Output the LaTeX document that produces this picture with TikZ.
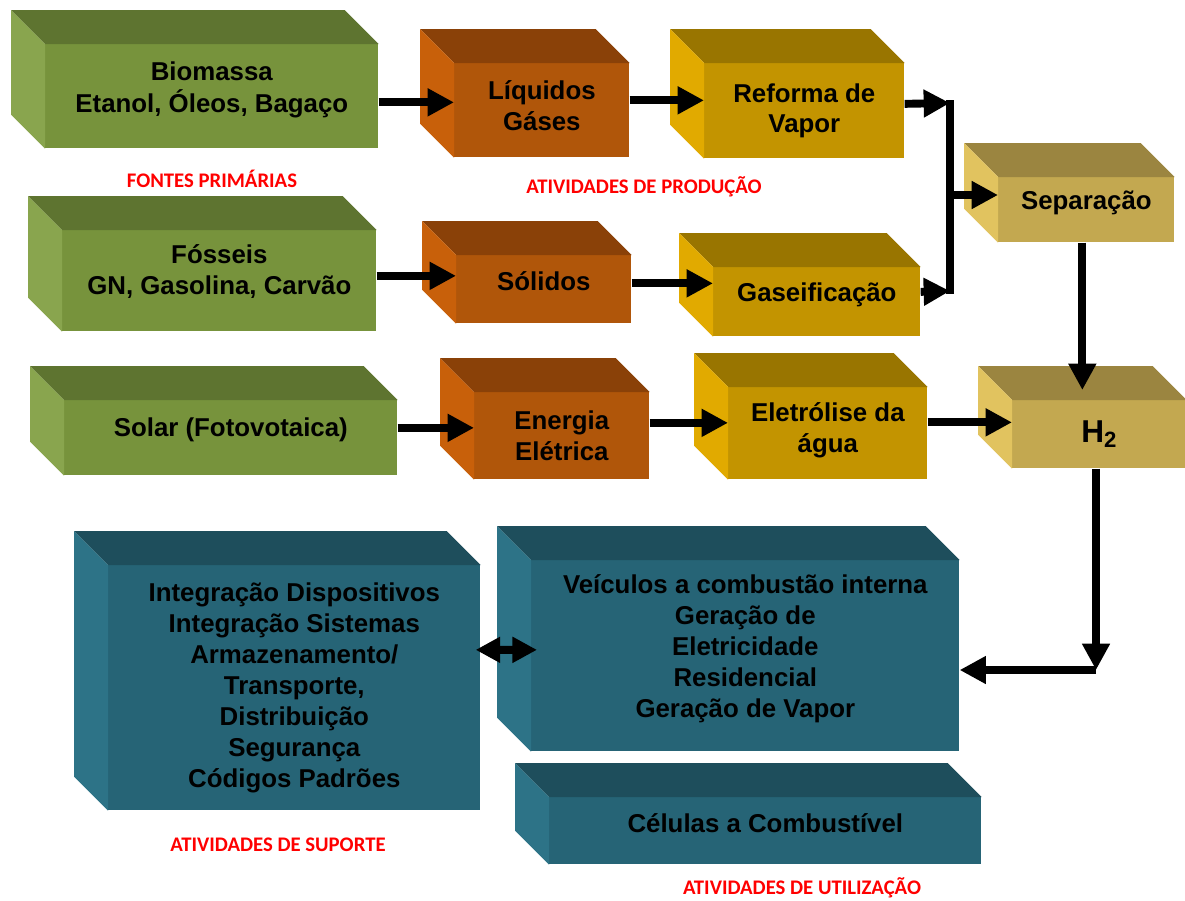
\documentclass[tikz,border=0pt]{standalone}
\usepackage{fontspec}
\setmainfont{Liberation Sans}
\newfontfamily\lblfont{Carlito}
\usetikzlibrary{arrows.meta}

%% face colours: F front, T top, S side
\definecolor{grnF}{HTML}{77933C}
\definecolor{grnT}{HTML}{5E7430}
\definecolor{grnS}{HTML}{89A54E}
\definecolor{orgF}{HTML}{B0560A}
\definecolor{orgT}{HTML}{8A4108}
\definecolor{orgS}{HTML}{C8600A}
\definecolor{gldF}{HTML}{C39400}
\definecolor{gldT}{HTML}{997500}
\definecolor{gldS}{HTML}{E1AA00}
\definecolor{tanF}{HTML}{C3A850}
\definecolor{tanT}{HTML}{9B8540}
\definecolor{tanS}{HTML}{E1C35F}
\definecolor{tealF}{HTML}{266476}
\definecolor{tealT}{HTML}{1E4E5C}
\definecolor{tealS}{HTML}{2D7387}

%% text lifted a little above the middle of the front face
\newcommand{\lift}[2]{\raisebox{#1}[0pt][0pt]{\begin{tabular}{@{}c@{}}#2\end{tabular}}}

\begin{document}
\begin{tikzpicture}[x=0.02cm,y=-0.02cm,
    box/.style={rectangle,anchor=north west,inner sep=0pt,align=center,
        font=\bfseries\fontsize{14.7}{17.6}\selectfont},
    arr/.style={line width=4.5pt,-{Triangle[length=15pt,width=15pt]}},
    darr/.style={line width=4.5pt,{Triangle[length=14pt,width=14pt]}-{Triangle[length=14pt,width=14pt]}},
    lbl/.style={text=red,font=\lblfont\bfseries\fontsize{11.8}{14}\selectfont}]
    \useasboundingbox (0,0) rectangle (1185,900);

    %% primary sources
    \node[box,fill=grnF,minimum width=6.66cm,minimum height=2.08cm] (bio) at (45,44) {\lift{0pt}{Biomassa\\Etanol, Óleos, Bagaço}};
    \node[box,fill=grnF,minimum width=6.28cm,minimum height=2.02cm] (fos) at (62,230) {\lift{0.9pt}{Fósseis\\GN, Gasolina, Carvão}};
    \node[box,fill=grnF,minimum width=6.66cm,minimum height=1.50cm] (sun) at (64,400) {\lift{0.9pt}{Solar (Fotovotaica)}};

    %% production
    \node[box,fill=orgF,minimum width=3.50cm,minimum height=1.88cm] (liq) at (454,63) {\lift{-2.6pt}{Líquidos\\Gáses}};
    \node[box,fill=orgF,minimum width=3.50cm,minimum height=1.36cm] (sld) at (456,255) {\lift{-0.8pt}{Sólidos}};
    \node[box,fill=orgF,minimum width=3.50cm,minimum height=1.74cm] (ene) at (474,392) {Energia\\Elétrica};
    \node[box,fill=gldF,minimum width=4.00cm,minimum height=1.90cm] (ref) at (704,63) {Reforma de\\Vapor};
    \node[box,fill=gldF,minimum width=4.14cm,minimum height=1.38cm] (gas) at (713,267) {\lift{0.3pt}{Gaseificação}};
    \node[box,fill=gldF,minimum width=3.98cm,minimum height=1.84cm] (ele) at (728,387) {\lift{-2pt}{Eletrólise da\\água}};
    \node[box,fill=tanF,minimum width=3.52cm,minimum height=1.30cm] (sep) at (998,177) {\lift{0pt}{Separação}};
    \node[box,fill=tanF,minimum width=3.48cm,minimum height=1.36cm,font=\bfseries\fontsize{18}{21}\selectfont] (htwo) at (1012,400) {H\textsubscript{2}};

    %% support and use
    \node[box,fill=tealF,minimum width=7.44cm,minimum height=4.90cm] (sup) at (108,565)
        {Integração Dispositivos\\Integração Sistemas\\Armazenamento/\\Transporte,\\Distribuição\\Segurança\\Códigos Padrões};
    \node[box,fill=tealF,minimum width=8.56cm,minimum height=3.82cm] (vei) at (531,560)
        {\lift{0pt}{Veículos a combustão interna\\Geração de\\Eletricidade\\Residencial\\Geração de Vapor}};
    \node[box,fill=tealF,minimum width=8.64cm,minimum height=1.34cm] (cel) at (549,797) {\lift{-0.8pt}{Células a Combustível}};

    %% top and left faces
    \foreach \n/\tp/\sd in {bio/grnT/grnS,fos/grnT/grnS,sun/grnT/grnS,
            liq/orgT/orgS,sld/orgT/orgS,ene/orgT/orgS,
            ref/gldT/gldS,gas/gldT/gldS,ele/gldT/gldS,
            sep/tanT/tanS,htwo/tanT/tanS,
            sup/tealT/tealS,vei/tealT/tealS,cel/tealT/tealS} {
        \fill[\tp] (\n.north west) -- ++(-34,-34) -- ([shift={(-34,-34)}]\n.north east) -- (\n.north east) -- cycle;
        \fill[\sd] (\n.north west) -- ++(-34,-34) -- ([shift={(-34,-34)}]\n.south west) -- (\n.south west) -- cycle;
    }

    %% labels
    \node[lbl] (fontes) at (212,179) {FONTES PRIMÁRIAS};
    \node[lbl] (prod) at (644,187) {ATIVIDADES DE PRODUÇÃO};
    \node[lbl] (suporte) at (278,845) {ATIVIDADES DE SUPORTE};
    \node[lbl] (uso) at (802,888) {ATIVIDADES DE UTILIZAÇÃO};

    %% junctions
    \coordinate (j1) at (950,103);
    \coordinate (j2) at (950,291);
    \coordinate (j3) at (950,195);
    \coordinate (c4) at (1096,670);

    %% arrows
    \draw[arr] ([shift={(0,6)}]bio.east) -- ([shift={(0,6)}]bio.east -| liq.west);
    \draw[arr] ([shift={(0,-10)}]liq.east) -- ([shift={(0,-10)}]liq.east -| ref.west);
    \draw[arr] ([shift={(0,-7)}]ref.east) -- (j1);
    \draw[arr] ([shift={(0,-5)}]fos.east) -- ([shift={(0,-5)}]fos.east -| sld.west);
    \draw[arr] ([shift={(0,-6)}]sld.east) -- ([shift={(0,-6)}]sld.east -| gas.west);
    \draw[arr] ([shift={(0,-10)}]gas.east) -- (j2);
    \draw[line width=4.5pt] ([shift={(0,-3)}]j1) -- ([shift={(0,3)}]j2);
    \draw[arr] (j3) -- (j3 -| sep.west);
    \draw[arr] ([shift={(-4,0)}]sep.south) -- ([shift={(-4,-10)}]sep.south |- htwo.north);
    \draw[arr] ([shift={(0,-10)}]sun.east) -- ([shift={(0,-10)}]sun.east -| ene.west);
    \draw[arr] ([shift={(0,-13)}]ene.east) -- ([shift={(0,-13)}]ene.east -| ele.west);
    \draw[arr] ([shift={(0,-11)}]ele.east) -- ([shift={(0,-11)}]ele.east -| htwo.west);
    \draw[arr] (htwo.south -| c4) -- (c4);
    \draw[arr] (c4) -- (c4 -| vei.east);
    \draw[darr] ([shift={(-5,-38)}]sup.east) -- ([shift={(6,-6)}]vei.west);
\end{tikzpicture}
\end{document}
